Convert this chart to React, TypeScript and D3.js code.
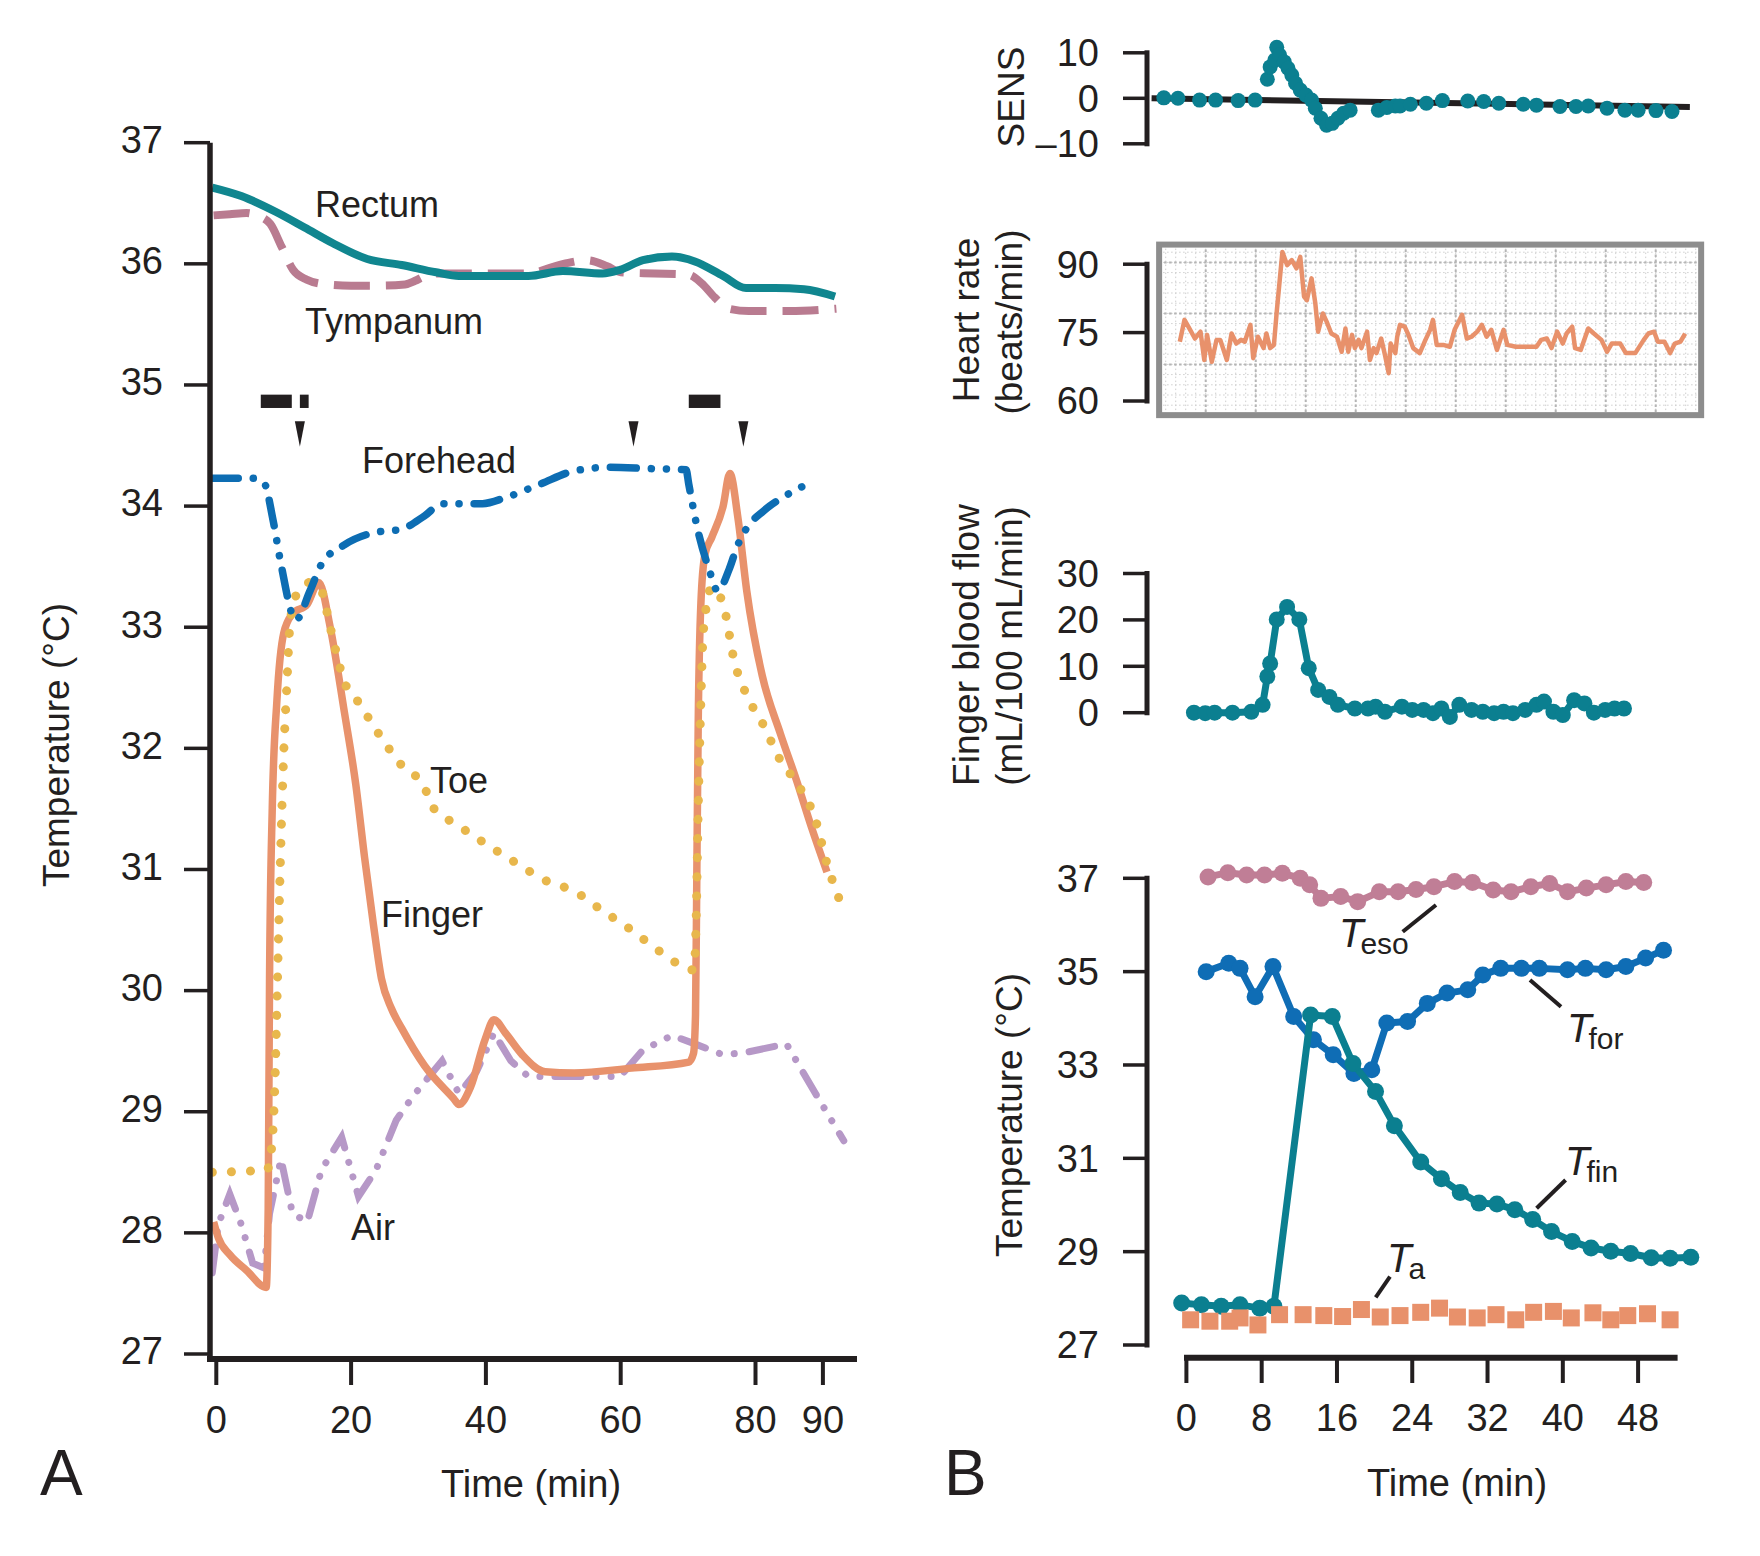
import React from 'react';
import * as d3 from 'd3';

type P = [number, number];

// ---------------- Panel A data (time min, temperature °C) ----------------
const rectum: P[] = [[-0.6,36.63],[3.7,36.56],[8.8,36.43],[13.1,36.3],[17.3,36.17],[22.4,36.04],[27.5,35.99],[32.6,35.93],[36.0,35.9],[40.3,35.9],[46.3,35.9],[51.4,35.94],[57.3,35.92],[59.9,35.95],[63.3,36.03],[67.6,36.06],[71.0,36.02],[75.2,35.9],[78.6,35.8],[82.9,35.8],[87.2,35.79],[91.8,35.73]];
const tympanum: P[] = [[-0.4,36.4],[2,36.41],[4.5,36.42],[6,36.4],[8,36.33],[9.7,36.14],[11.4,35.95],[13.4,35.87],[16.4,35.83],[20,35.82],[24.3,35.82],[28,35.83],[29.5,35.86],[31,35.9],[33,35.92],[40,35.92],[46,35.92],[51.5,36.0],[55,36.03],[58,35.98],[60,35.93],[65,35.92],[70,35.91],[72,35.84],[74,35.72],[76,35.63],[79,35.61],[85,35.61],[92,35.63]];
const forehead: P[] = [[-0.6,34.23],[5.4,34.23],[7.1,34.19],[8.4,33.89],[9.6,33.52],[11.8,33.06],[13.9,33.3],[15.6,33.52],[19.0,33.68],[23.3,33.78],[27.5,33.81],[30.9,33.92],[33.5,34.02],[39.5,34.02],[42.9,34.07],[48.0,34.18],[53.1,34.29],[58.2,34.32],[64.1,34.31],[69.7,34.3],[70.1,34.18],[71.4,33.81],[73.1,33.48],[74.4,33.3],[76.1,33.48],[77.3,33.67],[78.6,33.81],[81.2,33.96],[84.6,34.09],[87.6,34.18]];
const toe: P[] = [[-0.6,28.5],[7.5,28.52],[8.2,28.7],[8.7,29.24],[9.1,30.14],[9.5,31.05],[10.0,31.95],[10.5,32.56],[10.9,33.0],[11.8,33.26],[13.9,33.37],[15.6,33.3],[16.9,33.0],[19.0,32.55],[21.1,32.38],[24.1,32.12],[27.5,31.86],[30.9,31.68],[31.8,31.54],[36.0,31.36],[40.3,31.2],[44.6,31.05],[48.8,30.91],[53.1,30.82],[57.3,30.66],[61.6,30.5],[65.9,30.32],[70.9,30.17],[71.2,30.6],[71.5,31.5],[71.9,32.4],[72.2,32.9],[72.8,33.2],[73.5,33.33],[75.2,33.19],[76.9,32.71],[78.6,32.45],[81.2,32.19],[83.7,31.9],[86.3,31.7],[88.9,31.41],[90.6,31.05],[93.1,30.66]];
const finger: P[] = [[-0.4,28.09],[0.3,27.96],[2.0,27.82],[4.5,27.69],[7.4,27.55],[7.7,28.2],[7.9,30.1],[8.3,31.5],[9.0,32.4],[10.0,32.95],[11.3,33.11],[13.5,33.19],[15.2,33.37],[16.9,33.0],[19.0,32.3],[20.7,31.7],[22.0,31.1],[23.3,30.55],[24.5,30.1],[26.0,29.85],[27.5,29.69],[30.9,29.38],[35.2,29.11],[36.0,29.06],[37.7,29.2],[39.9,29.6],[41.2,29.76],[42.9,29.65],[45.4,29.47],[48.8,29.33],[53.1,29.32],[61.6,29.36],[70.1,29.41],[70.8,29.48],[71.1,29.8],[71.3,31.0],[71.5,32.2],[71.9,33.2],[72.5,33.6],[73.5,33.74],[75.2,34.0],[76.2,34.27],[77.4,33.9],[78.7,33.3],[81.0,32.6],[83.7,32.12],[86.0,31.75],[88.3,31.35],[90.6,30.98]];
const air: P[] = [[-0.6,27.67],[0.3,28.07],[2.0,28.32],[3.7,28.07],[5.4,27.75],[7.1,27.71],[7.9,28.16],[9.6,28.61],[11.3,28.16],[13.5,28.09],[15.6,28.52],[18.6,28.79],[21.1,28.3],[23.7,28.52],[26.7,28.93],[29.2,29.13],[33.5,29.42],[36.0,29.15],[38.6,29.33],[41.2,29.65],[43.7,29.42],[46.3,29.29],[52.2,29.29],[59.9,29.29],[63.3,29.51],[67.6,29.63],[71.0,29.56],[75.2,29.47],[78.6,29.49],[84.6,29.56],[88.9,29.15],[93.1,28.76]];
const markerBars: P[] = [[6.6,11.2],[12.4,13.7],[70.1,74.8]];
const arrowTimes = [12.4, 61.9, 78.2];
const aXTicks = [0, 20, 40, 60, 80, 90];
const aYTicks = [27, 28, 29, 30, 31, 32, 33, 34, 35, 36, 37];

// ---------------- Panel B data ----------------
const sens: P[] = [[-2.4,0.1],[-0.9,0],[1.4,-0.4],[3.1,-0.4],[5.5,-0.5],[7.3,-0.4],[8.6,4.2],[8.9,6.9],[9.4,8.4],[9.6,11.2],[9.9,9.5],[10.4,8.0],[10.8,6.6],[11.2,5.1],[11.6,3.3],[12.1,1.8],[12.7,0.7],[13.3,-0.4],[13.7,-2.2],[14.3,-4.4],[14.9,-5.9],[15.5,-5.5],[16.1,-4.4],[16.7,-3.3],[17.4,-2.6],[20.4,-2.6],[21.3,-2.0],[22.2,-1.7],[22.7,-1.7],[23.8,-1.3],[25.5,-1.1],[27.2,-0.5],[29.9,-0.6],[31.6,-0.7],[33.2,-1.1],[35.8,-1.3],[37.2,-1.5],[39.7,-1.8],[41.4,-1.8],[42.7,-1.7],[44.7,-2.2],[46.6,-2.6],[48.0,-2.6],[49.9,-2.7],[51.6,-2.9]];
const sensTrend: P[] = [[-3.7,0],[53.5,-1.9]];
const heartRate: P[] = [[-0.7,73.0],[-0.2,77.8],[0.4,75.6],[0.9,73.7],[1.5,75.2],[1.9,69.0],[2.2,74.5],[2.7,68.6],[3.2,73.4],[3.6,73.4],[4.3,69.0],[4.8,74.8],[5.3,72.6],[5.8,73.4],[6.2,73.0],[6.8,76.7],[7.1,69.4],[7.6,74.1],[8.2,71.6],[8.5,74.8],[8.9,71.6],[9.3,72.3],[9.6,79.6],[10.2,92.7],[10.7,89.8],[11.2,90.9],[11.7,89.1],[12.1,91.6],[12.5,82.9],[12.8,82.1],[13.3,86.9],[13.7,81.4],[14.0,75.2],[14.5,79.2],[14.9,77.4],[15.4,74.8],[16.0,74.1],[16.5,70.8],[16.9,75.9],[17.2,70.8],[17.6,74.5],[17.9,71.6],[18.3,73.4],[18.6,71.6],[19.2,75.2],[19.5,69.0],[19.9,71.6],[20.2,70.5],[20.7,73.7],[21.1,70.1],[21.5,66.1],[21.7,72.6],[22.2,70.5],[22.4,74.1],[22.7,76.7],[23.2,76.3],[23.6,74.5],[24.1,71.6],[24.8,70.5],[25.4,73.4],[25.9,75.6],[26.2,77.8],[26.6,72.3],[27.3,72.3],[28.0,71.9],[28.5,75.6],[29.3,78.9],[29.8,73.7],[30.3,74.1],[30.9,75.2],[31.4,76.7],[31.9,74.1],[32.4,75.6],[33.0,71.2],[33.7,75.6],[34.1,72.3],[35.0,71.9],[36.1,71.9],[37.2,71.9],[37.7,73.4],[38.3,73.7],[38.8,71.6],[39.4,75.2],[40.0,72.6],[40.4,74.8],[41.0,76.3],[41.3,71.6],[41.9,71.2],[42.7,75.9],[43.3,74.8],[44.1,73.4],[44.7,70.8],[45.2,72.6],[46.1,72.6],[46.7,70.5],[47.7,70.5],[48.6,73.4],[49.1,74.8],[49.7,75.2],[50.1,73.0],[50.8,73.0],[51.4,70.5],[51.9,72.6],[52.5,73.0],[53.0,74.8]];
const hrBox = { t0: -2.9, t1: 54.7, v0: 56.9, v1: 94.3 };
const bloodFlow: P[] = [[0.8,0],[2.0,-0.1],[3.0,0],[4.9,0],[6.9,0.2],[8.1,1.7],[8.6,7.8],[8.9,10.6],[9.6,20.1],[10.7,22.8],[12.0,20.1],[13.0,9.6],[14.0,4.9],[15.2,3.4],[16.1,1.7],[17.9,0.9],[19.3,0.9],[20.1,1.3],[21.1,0.2],[22.9,1.3],[24.0,0.6],[25.2,0.6],[26.2,-0.1],[27.1,0.9],[28.0,-0.9],[29.0,1.7],[30.3,0.6],[31.5,0.2],[32.7,-0.1],[33.7,0.2],[34.7,-0.1],[36.0,0.6],[37.2,1.7],[38.0,2.4],[39.0,0.2],[40.0,-0.5],[41.2,2.7],[42.3,2.0],[43.3,0],[44.5,0.6],[45.5,0.9],[46.5,0.9]];
const tEso: P[] = [[2.3,37.03],[4.4,37.12],[6.4,37.07],[8.3,37.07],[10.2,37.11],[12.1,37.0],[13.1,36.86],[14.3,36.57],[16.4,36.61],[18.2,36.5],[20.5,36.71],[22.5,36.71],[24.4,36.76],[26.3,36.82],[28.5,36.93],[30.4,36.91],[32.6,36.75],[34.5,36.71],[36.6,36.82],[38.6,36.89],[40.5,36.71],[42.5,36.79],[44.6,36.86],[46.7,36.93],[48.6,36.91]];
const tFor: P[] = [[2.1,35.0],[4.5,35.18],[5.7,35.07],[7.3,34.46],[9.2,35.11],[11.4,34.04],[13.5,33.54],[15.6,33.22],[17.8,32.82],[19.7,32.9],[21.3,33.9],[23.5,33.93],[25.6,34.32],[27.7,34.54],[29.9,34.61],[31.5,34.93],[33.4,35.07],[35.6,35.07],[37.5,35.07],[40.5,35.04],[42.4,35.07],[44.6,35.04],[46.7,35.11],[48.8,35.29],[50.7,35.46]];
const tFin: P[] = [[-0.5,27.9],[1.6,27.86],[3.7,27.83],[5.7,27.86],[7.8,27.79],[9.3,27.83],[13.2,34.07],[15.5,34.04],[17.7,33.03],[20.1,32.43],[22.1,31.7],[24.9,30.92],[27.1,30.56],[29.1,30.27],[31.1,30.04],[33.0,30.02],[34.9,29.9],[36.8,29.69],[38.8,29.43],[41.0,29.22],[43.0,29.08],[45.1,29.01],[47.2,28.96],[49.4,28.87],[51.4,28.86],[53.6,28.88]];
const tAir: P[] = [[0.45,27.54],[2.5,27.51],[4.6,27.51],[5.7,27.58],[7.6,27.43],[9.9,27.65],[12.4,27.65],[14.6,27.63],[16.6,27.61],[18.6,27.76],[20.6,27.6],[22.7,27.63],[24.9,27.7],[26.9,27.79],[28.8,27.6],[30.9,27.58],[32.9,27.65],[35.0,27.54],[36.9,27.7],[39.0,27.72],[40.9,27.58],[43.2,27.69],[45.1,27.54],[46.9,27.63],[49.0,27.67],[51.4,27.54]];
const bXTicks = [0, 8, 16, 24, 32, 40, 48];
const sensTicks = [-10, 0, 10];
const hrTicks = [60, 75, 90];
const flowTicks = [0, 10, 20, 30];
const bTempTicks = [27, 29, 31, 33, 35, 37];

const FONT = "'Liberation Sans', Arial, Helvetica, sans-serif";
const INK = '#231f20';
const C = {
  rectum: '#10868f', tympanum: '#b97b90', forehead: '#0d6db3', toe: '#e8b74c',
  finger: '#e8926c', air: '#b698c7', teal: '#0b7f90', blue: '#0f6db5', pink: '#c07e96', orange: '#e8916b',
};

export default function App() {
  const xA = d3.scaleLinear().domain([0, 90]).range([216.3, 822.9]);
  const yA = d3.scaleLinear().domain([27, 37]).range([1354, 142.7]);
  const xB = d3.scaleLinear().domain([0, 48]).range([1186.4, 1638.1]);
  const ySens = d3.scaleLinear().domain([-10, 10]).range([143.8, 52.8]);
  const yHr = d3.scaleLinear().domain([60, 90]).range([401, 264.2]);
  const yFlow = d3.scaleLinear().domain([0, 30]).range([712.7, 573.5]);
  const yTB = d3.scaleLinear().domain([27, 37]).range([1345, 878.3]);

  const lineA = (curve: any) => d3.line<P>().x(d => xA(d[0])).y(d => yA(d[1])).curve(curve);
  const smooth = lineA(d3.curveMonotoneX);
  const straight = lineA(d3.curveLinear);
  const lineB = (y: any) => d3.line<P>().x(d => xB(d[0])).y(d => y(d[1]));

  const axisAX = 210, axisAXLine = 1359;
  const axisBX = 1147, axisBXLine = 1357.7;

  const bx0 = xB(hrBox.t0), bx1 = xB(hrBox.t1), by0 = yHr(hrBox.v1), by1 = yHr(hrBox.v0);
  const minorV = d3.range(bx0 + 6.6, bx1, 10);
  const majorV = d3.range(bx0 + 46.6, bx1, 50);
  const minorH = d3.range(by0 + 7.6, by1, 10.2);
  const majorH = d3.range(by0 + 17.8, by1, 51);

  const yAxisB = (y: any, ticks: number[], key: string) => (
    <g key={key}>
      <line x1={axisBX} x2={axisBX} y1={y(ticks[ticks.length - 1])} y2={y(ticks[0])} stroke={INK} strokeWidth={5} strokeLinecap="square" />
      {ticks.map(t => (
        <g key={t}>
          <line x1={axisBX - 24} x2={axisBX} y1={y(t)} y2={y(t)} stroke={INK} strokeWidth={3.5} />
          <text x={1099} y={y(t)} dy="0.35em" textAnchor="end" fontSize={38}>{t < 0 ? `–${Math.abs(t)}` : t}</text>
        </g>
      ))}
    </g>
  );

  const rotLabel = (x: number, y: number, txt: string, key: string) => (
    <text key={key} transform={`translate(${x},${y}) rotate(-90)`} textAnchor="middle" fontSize={37}>{txt}</text>
  );

  const subLabel = (x: number, y: number, sub: string) => (
    <text x={x} y={y} fontSize={40}>
      <tspan fontStyle="italic">T</tspan>
      <tspan fontSize={30} dx={-3} dy={7}>{sub}</tspan>
    </text>
  );

  return (
    <svg width={1760} height={1556} style={{ position: 'absolute', left: 0, top: 0, background: '#fff' }}
      fontFamily={FONT} fill={INK}>
      <rect x={0} y={0} width={1760} height={1556} fill="#fff" />

      {/* ================= Panel A ================= */}
      <g>
        <path d={straight(air) || ''} fill="none" stroke={C.air} strokeWidth={7} strokeLinecap="round" strokeDasharray="26,15,0.1,15,0.1,15" />
        <path d={smooth(finger) || ''} fill="none" stroke={C.finger} strokeWidth={7.5} strokeLinejoin="round" />
        <path d={smooth(toe) || ''} fill="none" stroke={C.toe} strokeWidth={9} strokeLinecap="round" strokeDasharray="0.1,19" />
        <path d={smooth(forehead) || ''} fill="none" stroke={C.forehead} strokeWidth={7.5} strokeLinecap="round" strokeDasharray="26,15,0.1,15,0.1,15" />
        <path d={smooth(tympanum) || ''} fill="none" stroke={C.tympanum} strokeWidth={8} strokeDasharray="36,16" />
        <path d={smooth(rectum) || ''} fill="none" stroke={C.rectum} strokeWidth={8} />

        {markerBars.map((b, i) => (
          <rect key={i} x={xA(b[0])} y={yA(34.92)} width={xA(b[1]) - xA(b[0])} height={yA(34.81) - yA(34.92)} fill={INK} />
        ))}
        {arrowTimes.map((t, i) => (
          <path key={i} d={`M${xA(t) - 5},${yA(34.7)} L${xA(t) + 5},${yA(34.7)} L${xA(t)},${yA(34.49)} Z`} fill={INK} />
        ))}

        <text x={315} y={217} fontSize={36}>Rectum</text>
        <text x={305} y={334} fontSize={36}>Tympanum</text>
        <text x={362} y={473} fontSize={36}>Forehead</text>
        <text x={430} y={793} fontSize={36}>Toe</text>
        <text x={381} y={927} fontSize={36}>Finger</text>
        <text x={351} y={1240} fontSize={36}>Air</text>

        <line x1={axisAX} x2={axisAX} y1={yA(37)} y2={axisAXLine + 3} stroke={INK} strokeWidth={5.5} />
        {aYTicks.map(t => (
          <g key={t}>
            <line x1={184} x2={axisAX} y1={yA(t)} y2={yA(t)} stroke={INK} strokeWidth={3.5} />
            <text x={163} y={yA(t) - 3} dy="0.35em" textAnchor="end" fontSize={38}>{t}</text>
          </g>
        ))}
        <line x1={207} x2={857} y1={axisAXLine} y2={axisAXLine} stroke={INK} strokeWidth={6} />
        {aXTicks.map(t => (
          <g key={t}>
            <line x1={xA(t)} x2={xA(t)} y1={axisAXLine} y2={1385} stroke={INK} strokeWidth={4} />
            <text x={xA(t)} y={1433} textAnchor="middle" fontSize={38}>{t}</text>
          </g>
        ))}
        <text x={531} y={1497} textAnchor="middle" fontSize={38}>Time (min)</text>
        {rotLabel(69, 745, 'Temperature (°C)', 'ta')}
        <text x={40} y={1495} fontSize={64}>A</text>
      </g>

      {/* ================= Panel B ================= */}
      <g>
        <path d={lineB(ySens)(sensTrend) || ''} stroke={INK} strokeWidth={6} fill="none" />
        {sens.map((d, i) => <circle key={i} cx={xB(d[0])} cy={ySens(d[1])} r={7.5} fill={C.teal} />)}
        {yAxisB(ySens, sensTicks, 'sens')}
        {rotLabel(1024, 97, 'SENS', 'sl')}

        <rect x={bx0} y={by0} width={bx1 - bx0} height={by1 - by0} fill="#fff" />
        {minorV.map((x, i) => <line key={'mv' + i} x1={x} x2={x} y1={by0} y2={by1} stroke="#cfcfcf" strokeWidth={1} strokeDasharray="1.5,2.5" />)}
        {minorH.map((y, i) => <line key={'mh' + i} x1={bx0} x2={bx1} y1={y} y2={y} stroke="#cfcfcf" strokeWidth={1} strokeDasharray="1.5,2.5" />)}
        {majorV.map((x, i) => <line key={'Mv' + i} x1={x} x2={x} y1={by0} y2={by1} stroke="#b5b5b5" strokeWidth={2} strokeDasharray="2.5,2.5" />)}
        {majorH.map((y, i) => <line key={'Mh' + i} x1={bx0} x2={bx1} y1={y} y2={y} stroke="#b5b5b5" strokeWidth={2} strokeDasharray="2.5,2.5" />)}
        <path d={lineB(yHr)(heartRate) || ''} fill="none" stroke={C.orange} strokeWidth={4.5} strokeLinejoin="round" />
        <rect x={bx0} y={by0} width={bx1 - bx0} height={by1 - by0} fill="none" stroke="#8d8d8d" strokeWidth={6} />
        {yAxisB(yHr, hrTicks, 'hr')}
        <text transform={`translate(979,320) rotate(-90)`} textAnchor="middle" fontSize={37}>Heart rate</text>
        <text transform={`translate(1022,322) rotate(-90)`} textAnchor="middle" fontSize={37}>(beats/min)</text>

        <path d={lineB(yFlow)(bloodFlow) || ''} fill="none" stroke={C.teal} strokeWidth={7} strokeLinejoin="round" />
        {bloodFlow.map((d, i) => <circle key={i} cx={xB(d[0])} cy={yFlow(d[1])} r={8} fill={C.teal} />)}
        {yAxisB(yFlow, flowTicks, 'flow')}
        <text transform={`translate(979,645) rotate(-90)`} textAnchor="middle" fontSize={37}>Finger blood flow</text>
        <text transform={`translate(1022,646) rotate(-90)`} textAnchor="middle" fontSize={37}>(mL/100 mL/min)</text>

        <path d={lineB(yTB)(tEso) || ''} fill="none" stroke={C.pink} strokeWidth={7} strokeLinejoin="round" />
        {tEso.map((d, i) => <circle key={i} cx={xB(d[0])} cy={yTB(d[1])} r={8.5} fill={C.pink} />)}
        <path d={lineB(yTB)(tFor) || ''} fill="none" stroke={C.blue} strokeWidth={7} strokeLinejoin="round" />
        {tFor.map((d, i) => <circle key={i} cx={xB(d[0])} cy={yTB(d[1])} r={8.5} fill={C.blue} />)}
        <path d={lineB(yTB)(tFin) || ''} fill="none" stroke={C.teal} strokeWidth={7} strokeLinejoin="round" />
        {tFin.map((d, i) => <circle key={i} cx={xB(d[0])} cy={yTB(d[1])} r={8.5} fill={C.teal} />)}
        {tAir.map((d, i) => <rect key={i} x={xB(d[0]) - 8.5} y={yTB(d[1]) - 8.5} width={17} height={17} fill={C.orange} />)}

        <line x1={1402.7} y1={931.7} x2={1436} y2={905} stroke={INK} strokeWidth={4} />
        <line x1={1530} y1={980} x2={1561} y2={1006.7} stroke={INK} strokeWidth={4} />
        <line x1={1536.6} y1={1208.3} x2={1565.6} y2={1180} stroke={INK} strokeWidth={4} />
        <line x1={1375.7} y1={1297.3} x2={1390} y2={1276.7} stroke={INK} strokeWidth={4} />
        {subLabel(1339, 947, 'eso')}
        {subLabel(1567, 1042, 'for')}
        {subLabel(1565, 1175, 'fin')}
        {subLabel(1387, 1272, 'a')}

        {yAxisB(yTB, bTempTicks, 'temp')}
        {rotLabel(1022, 1115, 'Temperature (°C)', 'tb')}

        <line x1={1184} x2={1677.6} y1={axisBXLine} y2={axisBXLine} stroke={INK} strokeWidth={6} />
        {bXTicks.map(t => (
          <g key={t}>
            <line x1={xB(t)} x2={xB(t)} y1={axisBXLine} y2={1383} stroke={INK} strokeWidth={4} />
            <text x={xB(t)} y={1431} textAnchor="middle" fontSize={38}>{t}</text>
          </g>
        ))}
        <text x={1457} y={1496} textAnchor="middle" fontSize={38}>Time (min)</text>
        <text x={944} y={1495} fontSize={64}>B</text>
      </g>
    </svg>
  );
}
